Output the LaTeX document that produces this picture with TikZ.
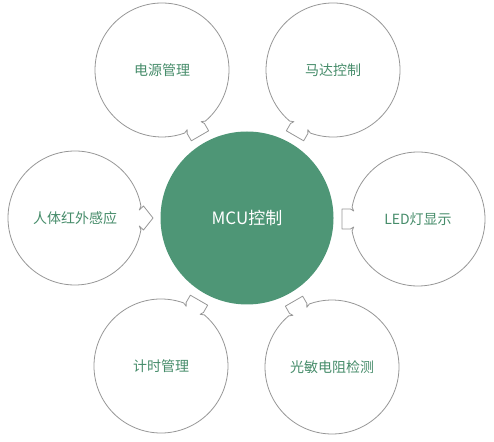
\documentclass[tikz,border=0pt]{standalone}
\usepackage{fontspec}
\newfontfamily\cjk{Noto Sans CJK SC}
\definecolor{mcugreen}{RGB}{78,150,118}
\definecolor{txtgreen}{RGB}{70,140,106}
\definecolor{ringgray}{RGB}{150,150,150}
\tikzset{
  ring/.style={draw=ringgray, line width=0.8pt, line join=round},
  outer/.style={circle, minimum size=134pt, inner sep=0pt, text=txtgreen, font=\cjk\fontsize{14}{16}\selectfont},
  hub/.style={circle, fill=mcugreen, minimum size=173pt, inner sep=0pt, text=white, font=\cjk\fontsize{17}{20}\selectfont},
}
\newcommand\flatring[2]{%
  \begin{scope}[shift={(#1.center)}, rotate=#2]
    \draw[ring] (10.3:67) arc[start angle=10.3, end angle=349.7, radius=67]
      -- (64.3,-8) -- (67.5,-10) -- (76,-10) -- (76,10) -- (67.5,10) -- (64.3,8) -- cycle;
  \end{scope}}
\newcommand\pointring[2]{%
  \begin{scope}[shift={(#1.center)}, rotate=#2]
    \draw[ring] (10.3:67) arc[start angle=10.3, end angle=349.7, radius=67]
      -- (64.3,-8) -- (68.5,-12) -- (78,0) -- (68.5,12) -- (64.3,8) -- cycle;
  \end{scope}}
\begin{document}
\begin{tikzpicture}[x=1pt,y=1pt]
  \useasboundingbox (0,0) rectangle (494,441);
  \node[hub] (mcu) at (247,223) {MCU控制};
  \node[outer] (power) at (162,371) {电源管理};
  \node[outer] (motor) at (333,371) {马达控制};
  \node[outer] (pir) at (75,223) {人体红外感应};
  \node[outer] (led) at (418,222) {LED灯显示};
  \node[outer] (timer) at (161,75) {计时管理};
  \node[outer] (ldr) at (332,74) {光敏电阻检测};
  \flatring{power}{-60}
  \flatring{motor}{-120}
  \pointring{pir}{0}
  \flatring{led}{180}
  \flatring{timer}{60}
  \flatring{ldr}{120}
\end{tikzpicture}
\end{document}
